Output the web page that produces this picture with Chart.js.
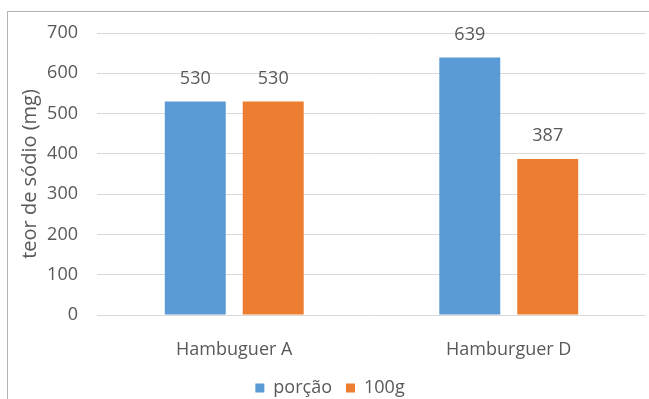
<!DOCTYPE html>
<html>
<head>
<meta charset="utf-8">
<script src="https://cdn.jsdelivr.net/npm/chart.js@4"></script>
<style>
  html, body { margin: 0; padding: 0; background: #fff; }
  #wrap { position: relative; width: 649px; height: 399px; overflow: hidden; }
  #frame { position: absolute; left: 7px; top: 11px; width: 700px; height: 500px; border: 1px solid #b4b4b4; }
  #canvasSodio { position: absolute; left: 0; top: 0; }
</style>
</head>
<body>
<div id="wrap">
  <div id="frame"></div>
  <canvas id="canvasSodio" width="649" height="407"></canvas>
</div>
<script>
// produtos e teor de sodio (mg)
var categorias = ['Hambuguer A', 'Hamburguer D'];
var porcao = [530, 639];
var cemGramas = [530, 387];
var nomesSeries = ['porção', '100g'];
var yMin = 0, yMax = 700, yPasso = 100;

var corTexto = '#595959';
var fonte = '"Open Sans", sans-serif';

// escreve o valor em cima de cada barra
var rotulosValores = {
  id: 'rotulosValores',
  afterDatasetsDraw: function(chart) {
    var ctx = chart.ctx;
    ctx.save();
    ctx.font = '18px ' + fonte;
    ctx.fillStyle = corTexto;
    ctx.textAlign = 'center';
    ctx.textBaseline = 'middle';
    chart.data.datasets.forEach(function(ds, i) {
      chart.getDatasetMeta(i).data.forEach(function(bar, j) {
        ctx.fillText(ds.data[j], bar.x, bar.y - 23);
      });
    });
    ctx.restore();
  }
};

var ctx = document.getElementById('canvasSodio').getContext('2d');
window.graficoSodio = new Chart(ctx, {
  type: 'bar',
  data: {
    labels: categorias,
    datasets: [
      { label: nomesSeries[0], data: porcao, backgroundColor: '#5B9BD5' },
      { label: nomesSeries[1], data: cemGramas, backgroundColor: '#ED7D31' }
    ]
  },
  options: {
    responsive: false,
    devicePixelRatio: 1,
    animation: false,
    barPercentage: 0.782,
    categoryPercentage: 0.568,
    layout: { padding: { top: 33, right: 3, left: 14, bottom: 0 } },
    plugins: {
      tooltip: { enabled: false },
      legend: {
        position: 'bottom',
        labels: {
          boxWidth: 9,
          boxHeight: 9,
          padding: 14,
          color: corTexto,
          font: { family: fonte, size: 18 }
        }
      }
    },
    scales: {
      x: {
        grid: { display: false },
        border: { display: false },
        ticks: { color: corTexto, padding: 16, font: { family: fonte, size: 18 } },
        afterFit: function(scale) { scale.height = 50; }
      },
      y: {
        min: yMin,
        max: yMax,
        grid: { color: '#d9d9d9', lineWidth: 1, drawTicks: false },
        border: { display: false },
        ticks: { stepSize: yPasso, color: corTexto, padding: 19, font: { family: fonte, size: 18 } },
        title: {
          display: true,
          text: 'teor de sódio (mg)',
          color: corTexto,
          font: { family: fonte, size: 20 },
          padding: { top: 4, bottom: 0 }
        },
        afterFit: function(scale) { scale.width = 83; }
      }
    }
  },
  plugins: [rotulosValores]
});
</script>
</body>
</html>
